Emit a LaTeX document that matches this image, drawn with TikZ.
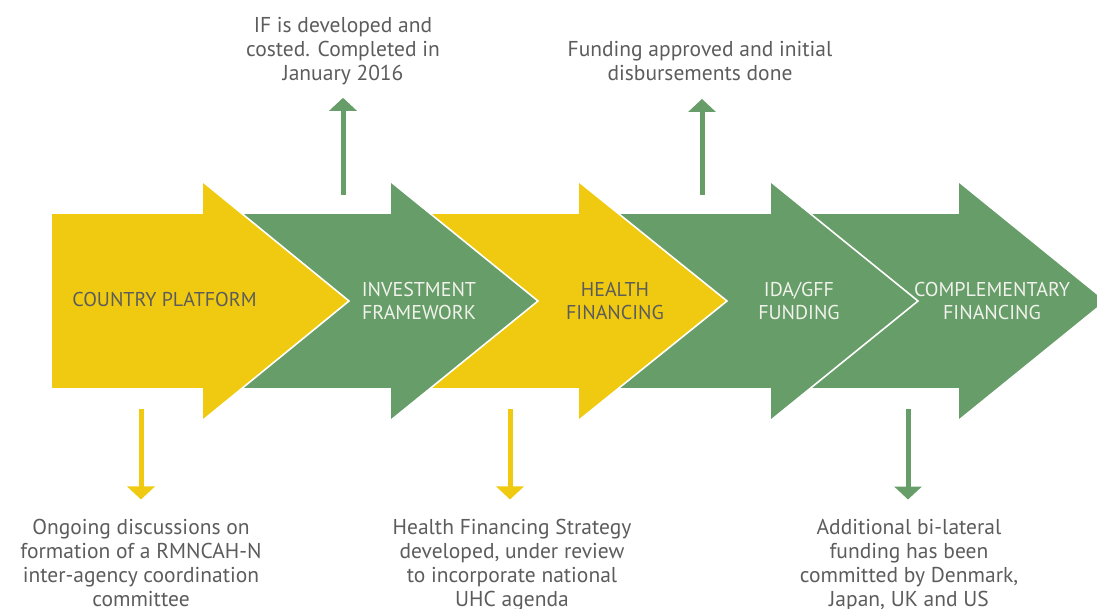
\documentclass[tikz,border=0pt]{standalone}
\usepackage{fontspec}
\setmainfont{PT Sans}
\usepackage{xcolor}
\usepackage{tikz}
\usetikzlibrary{arrows.meta,positioning}
\definecolor{cpyellow}{RGB}{240,202,16}
\definecolor{cpgreen}{RGB}{102,157,104}
\definecolor{cpgrey}{RGB}{92,92,92}
\definecolor{cpwhite}{RGB}{242,242,236}

\begin{document}
\begin{tikzpicture}
      [x=1pt, y=-1pt,
      chevron style1/.style={fill=cpyellow, draw=white, line width=1.6pt, line join=miter},
      chevron style2/.style={fill=cpgreen, draw=white, line width=1.6pt, line join=miter},
      label style1/.style={align=center, text=cpgrey, inner sep=0pt, anchor=base, font=\fontsize{20}{22.5}\selectfont},
      label style2/.style={label style1, text=cpwhite},
      note style/.style={align=center, text=cpgrey, inner sep=0pt, anchor=base, font=\fontsize{21.5}{24}\selectfont},
      note arrow/.style={line width=5pt, -{Triangle[width=27pt,length=13pt]}},
      ]

      \clip (0,0) rectangle (1097,609);

      \filldraw[chevron style2] (800,213) -- (958,213) -- (958,181) -- (1106,301) -- (958,421) -- (958,389) -- (800,389) -- cycle;
      \filldraw[chevron style2] (610,213) -- (770,213) -- (770,181) -- (918,301) -- (770,421) -- (770,389) -- (610,389) -- cycle;
      \filldraw[chevron style1] (420,213) -- (578,213) -- (578,181) -- (727,301) -- (578,421) -- (578,389) -- (420,389) -- cycle;
      \filldraw[chevron style2] (230,213) -- (390,213) -- (390,181) -- (538,301) -- (390,421) -- (390,389) -- (230,389) -- cycle;
      \filldraw[chevron style1] (51,213) -- (202,213) -- (202,181) -- (349,301) -- (202,421) -- (202,389) -- (51,389) -- cycle;

      \node[label style1] (country) at (164.5,307) {COUNTRY PLATFORM};
      \node[label style2] (invest) at (419,319.5) {INVESTMENT\\FRAMEWORK};
      \node[label style1] (health) at (615,319.5) {HEALTH\\FINANCING};
      \node[label style2] (idagff) at (799,319.5) {IDA/GFF\\FUNDING};
      \node[label style2] (compl) at (992,319.5) {COMPLEMENTARY\\FINANCING};

      \node[note style] (invest note) at (343,81) {IF is developed and\\costed. Completed in\\January 2016};
      \node[note style] (idagff note) at (700,81) {Funding approved and initial\\disbursements done};
      \node[note style] (country note) at (141,606) {Ongoing discussions on\\formation of a RMNCAH-N\\inter-agency coordination\\committee};
      \node[note style] (health note) at (512,606) {Health Financing Strategy\\developed, under review\\to incorporate national\\UHC agenda};
      \node[note style] (compl note) at (909,606) {Additional bi-lateral\\funding has been\\committed by Denmark,\\Japan, UK and US};

      \coordinate (invest tail) at (343,195);
      \coordinate (idagff tail) at (702,195);
      \coordinate (country tail) at (141,409);
      \coordinate (health tail) at (510,409);
      \coordinate (compl tail) at (908,409);

      \draw[note arrow, cpgreen, shorten >=12.2pt] (invest tail) -- (invest tail |- invest note.south);
      \draw[note arrow, cpgreen, shorten >=17.5pt] (idagff tail) -- (idagff tail |- idagff note.south);
      \draw[note arrow, cpyellow, shorten >=19pt] (country tail) -- (country tail |- country note.north);
      \draw[note arrow, cpyellow, shorten >=19pt] (health tail) -- (health tail |- health note.north);
      \draw[note arrow, cpgreen, shorten >=19pt] (compl tail) -- (compl tail |- compl note.north);
\end{tikzpicture}
\end{document}
